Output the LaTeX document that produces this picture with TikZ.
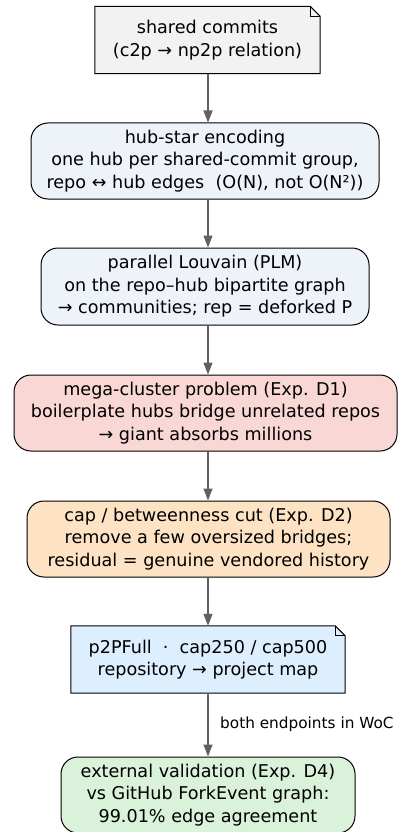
\documentclass[tikz,border=0pt]{standalone}
\usepackage{fontspec}
\setmainfont{DejaVu Sans}
\usepackage{tikz}
\usetikzlibrary{arrows.meta,backgrounds}

\definecolor{notegray}{HTML}{F2F2F2}
\definecolor{stepblue}{HTML}{EEF3FA}
\definecolor{probred}{HTML}{F8D7D5}
\definecolor{cutorange}{HTML}{FDE3C3}
\definecolor{mapblue}{HTML}{DDEEFF}
\definecolor{okgreen}{HTML}{D9F2D9}
\definecolor{arrowgray}{HTML}{606060}

\tikzset{
  txt/.style={align=center, font=\fontsize{17.6}{22.4}\selectfont, inner sep=0pt},
  stage/.style={txt, draw=black, line width=1pt, rounded corners=17pt},
  notebox/.style={txt},
  flow/.style={-{Triangle[length=12pt,width=9pt]}, draw=arrowgray, fill=arrowgray, line width=1.3pt}
}

\begin{document}
\begin{tikzpicture}[x=1pt, y=1pt]
            \useasboundingbox (0,0) rectangle (398,-832);

            % notes get their folded corner drawn by hand
            \node[notebox, minimum width=225pt, minimum height=67pt] (shared) at (207.5,-40) {shared commits\\(c2p → np2p relation)};
            \node[stage, fill=stepblue, minimum width=348pt, minimum height=76pt] (hub) at (205,-161) {hub-star encoding\\one hub per shared-commit group,\\repo ↔ hub edges\ \ (O(N), not O(N²))};
            \node[stage, fill=stepblue, minimum width=328pt, minimum height=77pt] (plm) at (205,-286.5) {parallel Louvain (PLM)\\on the repo–hub bipartite graph\\→ communities; rep = deforked P};
            \node[stage, fill=probred, minimum width=383pt, minimum height=76pt] (mega) at (205.5,-413) {mega-cluster problem (Exp. D1)\\boilerplate hubs bridge unrelated repos\\→ giant absorbs millions};
            \node[stage, fill=cutorange, minimum width=363pt, minimum height=76pt] (cut) at (208.5,-539) {cap / betweenness cut (Exp. D2)\\remove a few oversized bridges;\\residual = genuine vendored history};
            \node[notebox, minimum width=274pt, minimum height=67pt] (map) at (208,-659.5) {p2PFull\ \ ·\ \ cap250 / cap500\\repository → project map};
            \node[stage, fill=okgreen, minimum width=294pt, minimum height=76pt] (valid) at (208,-795) {external validation (Exp. D4)\\vs GitHub ForkEvent graph:\\99.01\% edge agreement};

            \begin{scope}[on background layer]
            \foreach \n/\c in {shared/notegray, map/mapblue} {
                \filldraw[fill=\c, draw=black, line width=1pt] (\n.north west) -- ([xshift=-10pt]\n.north east) -- ([yshift=-10pt]\n.north east) -- (\n.south east) -- (\n.south west) -- cycle;
                \draw[line width=1pt] ([xshift=-10pt]\n.north east) -- ([xshift=-10pt,yshift=-10pt]\n.north east) -- ([yshift=-10pt]\n.north east);
            }
            \end{scope}

            \draw[flow] (shared.south -| 208,0) -- (hub.north -| 208,0);
            \draw[flow] (hub.south -| 208,0) -- (plm.north -| 208,0);
            \draw[flow] (plm.south -| 208,0) -- (mega.north -| 208,0);
            \draw[flow] (mega.south -| 208,0) -- (cut.north -| 208,0);
            \draw[flow] (cut.south -| 208,0) -- (map.north -| 208,0);
            \draw[flow] (map.south -| 208,0) -- (valid.north -| 208,0);

            \node[anchor=west, font=\fontsize{15.3}{18}\selectfont, inner sep=0pt] (woc) at (220,-724) {both endpoints in WoC};
        \end{tikzpicture}
\end{document}
